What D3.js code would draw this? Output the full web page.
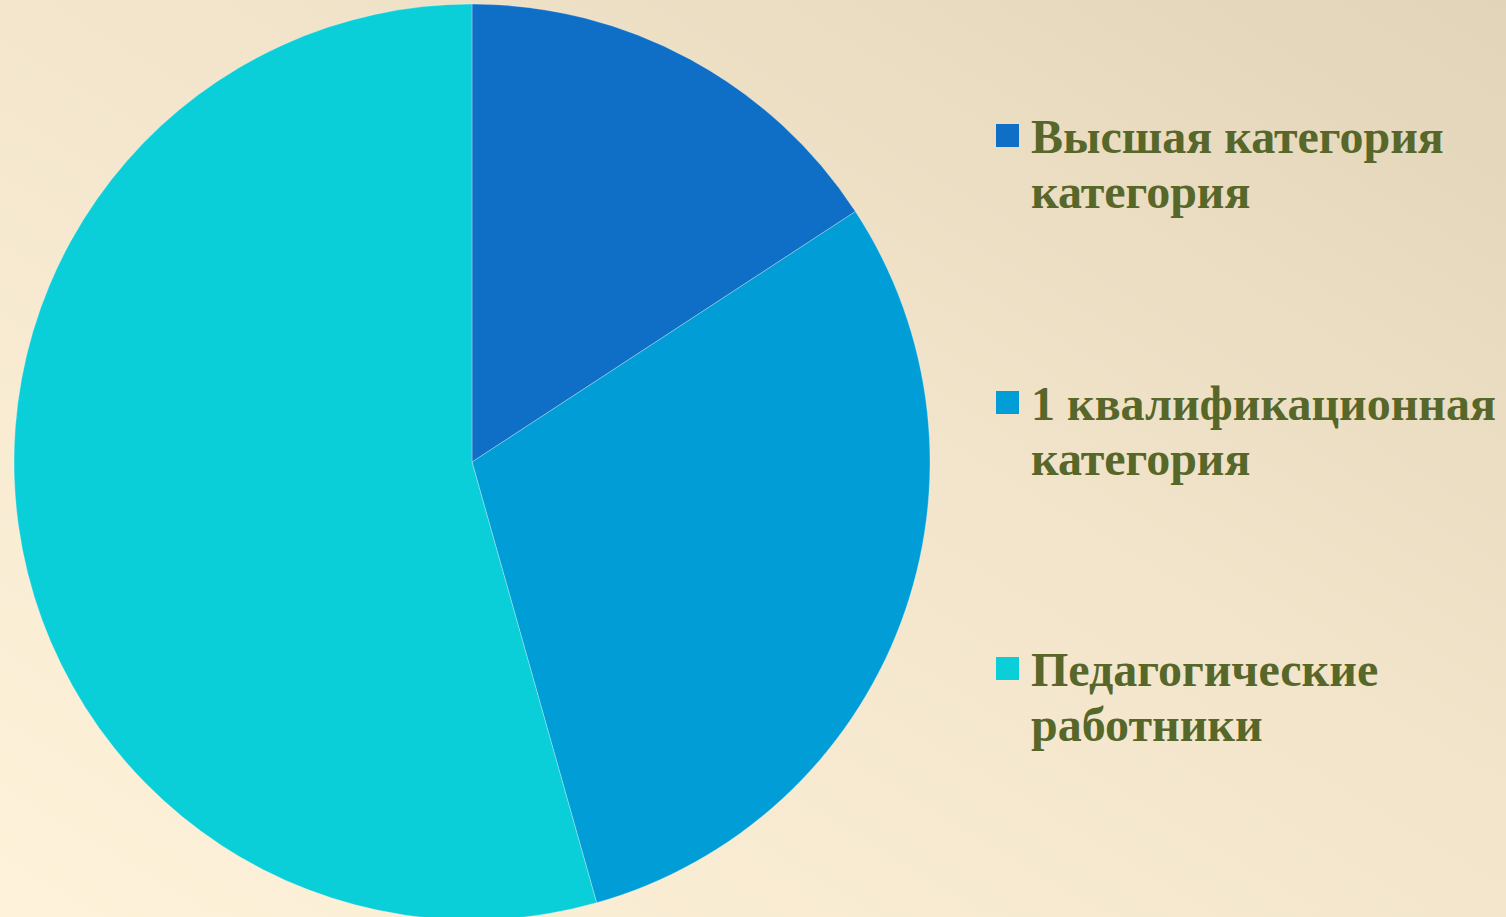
<!DOCTYPE html>
<html>
<head>
<meta charset="utf-8">
<script src="https://cdn.jsdelivr.net/npm/d3@7"></script>
<style>
  html, body { margin: 0; padding: 0; overflow: hidden; }
  svg { display: block; }
</style>
</head>
<body>
<div id="chart"></div>
<script>
var svgWidth = 1506;
var svgHeight = 917;

// chart data
var categories = ["Высшая категория категория", "1 квалификационная категория", "Педагогические работники"];
var labelLines = [["Высшая категория", "категория"], ["1 квалификационная", "категория"], ["Педагогические", "работники"]];
var values = [9, 17, 31];
var colors = ["#0F6EC5", "#009DD7", "#0BCFD8"];

var svg = d3.select("#chart")
  .append("svg")
  .attr("width", svgWidth)
  .attr("height", svgHeight);

// background gradient
var defs = svg.append("defs");
var grad = defs.append("linearGradient")
  .attr("id", "bg")
  .attr("x1", "100%").attr("y1", "0%")
  .attr("x2", "0%").attr("y2", "100%");
grad.append("stop").attr("offset", "0%").attr("stop-color", "#E2D4B8");
grad.append("stop").attr("offset", "45%").attr("stop-color", "#F2E5CB");
grad.append("stop").attr("offset", "100%").attr("stop-color", "#FEF2DA");

svg.append("rect")
  .attr("width", svgWidth)
  .attr("height", svgHeight)
  .attr("fill", "url(#bg)");

// pie
var cx = 472, cy = 462, radius = 458;

var pie = d3.pie().sort(null).value(d => d);
var arc = d3.arc().innerRadius(0).outerRadius(radius);

var pieGroup = svg.append("g")
  .attr("transform", `translate(${cx}, ${cy})`);

pieGroup.selectAll("path")
  .data(pie(values))
  .enter()
  .append("path")
  .attr("d", arc)
  .attr("fill", (d, i) => colors[i])
  .attr("stroke", "#ffffff")
  .attr("stroke-opacity", 0.35)
  .attr("stroke-width", 0.8);

// legend
var legendX = 996;
var legendTop = [124, 391, 657];

var legend = svg.append("g");

var items = legend.selectAll("g")
  .data(categories)
  .enter()
  .append("g")
  .attr("transform", (d, i) => `translate(${legendX}, ${legendTop[i]})`);

items.append("rect")
  .attr("width", 23)
  .attr("height", 23)
  .attr("fill", (d, i) => colors[i]);

items.each(function(d, i) {
  var t = d3.select(this).append("text")
    .attr("x", 35)
    .attr("y", 29)
    .attr("font-family", "'Liberation Serif', 'Times New Roman', serif")
    .attr("font-weight", "bold")
    .attr("font-size", "48px")
    .attr("fill", "#57672A");
  labelLines[i].forEach(function(line, j) {
    t.append("tspan")
      .attr("x", 35)
      .attr("dy", j === 0 ? 0 : 55)
      .text(line);
  });
});
</script>
</body>
</html>
